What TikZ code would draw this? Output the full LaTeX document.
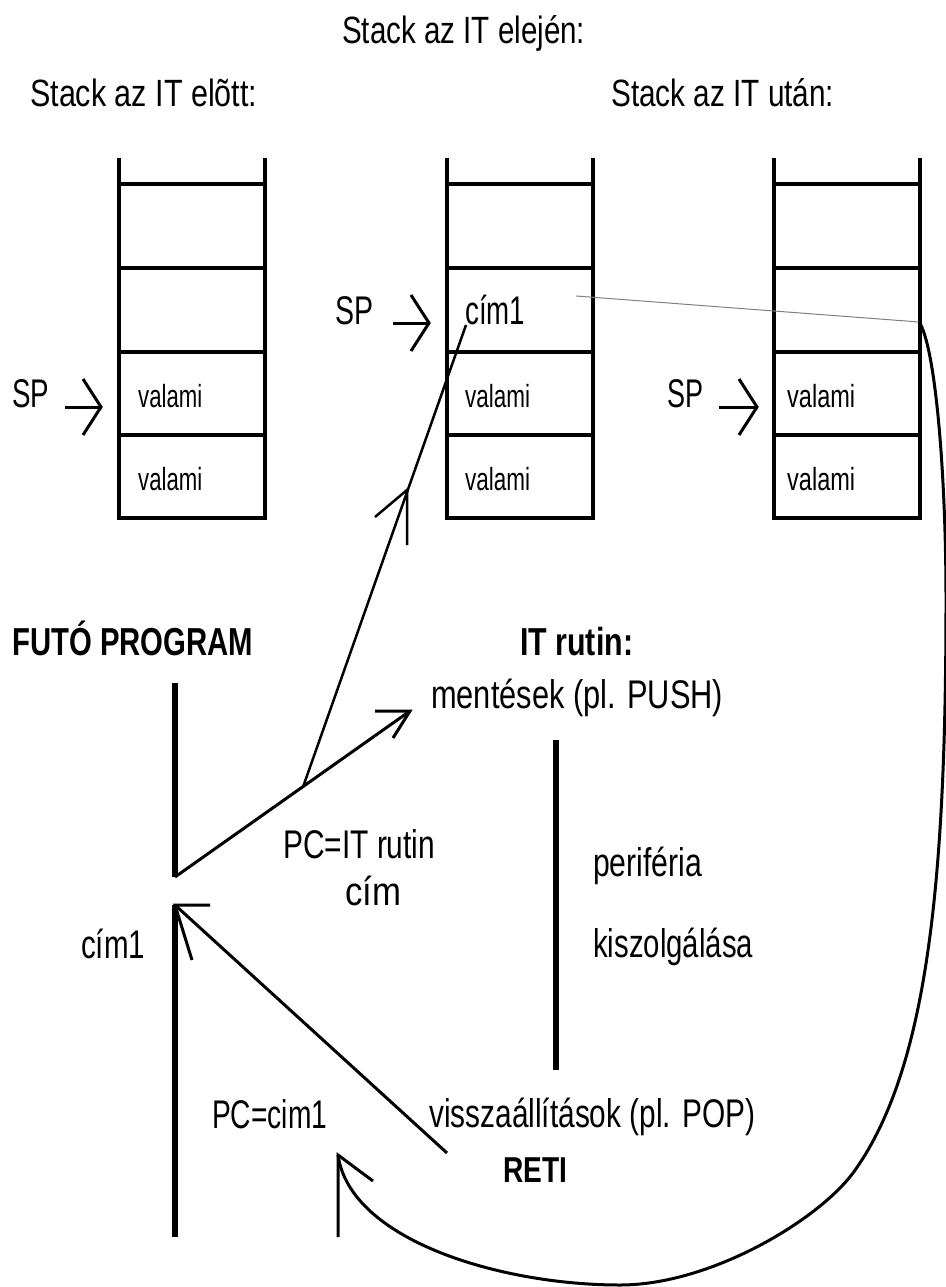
\documentclass[tikz,border=0pt]{standalone}
\usepackage{fontspec}
\setmainfont{Liberation Sans}
\usepackage{graphicx}
\usetikzlibrary{calc}
\newcommand\wlab[2]{\resizebox{#1pt}{\height}{#2}}
\begin{document}
\begin{tikzpicture}[x=1pt,y=-1pt,
  stk/.style={line width=3.5pt},
  prog/.style={line width=6pt},
  arr/.style={line width=3pt},
  thin arr/.style={line width=2.5pt},
  lbl/.style={inner sep=0pt, anchor=base west, font=\fontsize{40}{40}\selectfont},
  ttl/.style={inner sep=0pt, anchor=base west, font=\fontsize{38}{38}\selectfont},
  cellt/.style={inner sep=0pt, anchor=base west, font=\fontsize{32}{32}\selectfont},
  blbl/.style={inner sep=0pt, anchor=base west, font=\fontsize{39}{39}\selectfont\bfseries},
]
\useasboundingbox (0,0) rectangle (945,1287);

% ---------- titles ----------
\node[ttl] (tmid) at (342,44) {\wlab{243}{Stack az IT elején:}};
\node[ttl] (tleft) at (30,107) {\wlab{227}{Stack az IT elõtt:}};
\node[ttl] (tright) at (611,107) {\wlab{223}{Stack az IT után:}};

% ---------- stacks ----------
\foreach \L in {119,447,774} {
  \draw[stk] (\L,158) -- (\L,518) -- ({\L+146},518) -- ({\L+146},158);
  \foreach \yy in {184,268,352,435} \draw[stk] (\L,\yy) -- ({\L+146},\yy);
}

% cell texts
\node[cellt] (v1a) at (138,407) {\wlab{64}{valami}};
\node[cellt] (v1b) at (138,490) {\wlab{64}{valami}};
\node[cellt] (v2a) at (465,407) {\wlab{65}{valami}};
\node[cellt] (v2b) at (465,490) {\wlab{65}{valami}};
\node[cellt] (v3a) at (787,407) {\wlab{68}{valami}};
\node[cellt] (v3b) at (787,490) {\wlab{68}{valami}};
\node[lbl] (cim1s) at (465,324) {\wlab{60}{cím1}};

% SP labels and arrows
\node[lbl] (sp1) at (12,407) {\wlab{37}{SP}};
\node[lbl] (sp2) at (335,324) {\wlab{38}{SP}};
\node[lbl] (sp3) at (667,407) {\wlab{36}{SP}};
\coordinate (sp1s) at (65,407);  \coordinate (sp1t) at (101,407);
\coordinate (sp2s) at (393,323); \coordinate (sp2t) at (429,323);
\coordinate (sp3s) at (719,407); \coordinate (sp3t) at (757,407);
\foreach \n in {1,2,3} {
  \draw[arr] (sp\n s) -- (sp\n t);
  \draw[arr] ($(sp\n t)+(-18,-28)$) -- (sp\n t) -- ($(sp\n t)+(-18,28)$);
}

% ---------- program part ----------
\node[blbl] (futo) at (12,655) {\wlab{241}{FUTÓ PROGRAM}};
\node[blbl] (itr) at (520,655) {\wlab{113}{IT rutin:}};
\node[lbl] (ment) at (431,708) {\wlab{292}{mentések (pl. PUSH)}};
\node[lbl] (pcit) at (283,858) {\wlab{152}{PC=IT rutin}};
\node[lbl] (cimx) at (345,905) {\wlab{56}{cím}};
\node[lbl] (peri) at (593,876) {\wlab{109}{periféria}};
\node[lbl] (kisz) at (593,957) {\wlab{160}{kiszolgálása}};
\node[lbl] (cim1l) at (81,958) {\wlab{64}{cím1}};
\node[lbl] (pccim) at (212,1128) {\wlab{115}{PC=cim1}};
\node[lbl] (vissz) at (429,1127) {\wlab{326}{visszaállítások (pl. POP)}};
\node[blbl, font=\fontsize{36}{36}\selectfont\bfseries] (reti) at (503,1182) {\wlab{64}{RETI}};

% coordinates
\coordinate (p1top) at (175,683);
\coordinate (p1bot) at (175,877);
\coordinate (p2top) at (175,905);
\coordinate (p2bot) at (175,1237);
\coordinate (ittop) at (556,740);
\coordinate (itbot) at (556,1070);
\coordinate (callTip) at (410,711);
\coordinate (retStart) at (447,1153);
\coordinate (pushFoot) at (303,787);
\coordinate (pushEnd) at (466,325);
\coordinate (pushTip) at (407,490);
\coordinate (grayA) at (576,296);
\coordinate (grayB) at (919,322);
\coordinate (curveTip) at (338,1155);
\coordinate (cv1) at (946,600);
\coordinate (cv2) at (853,1173);
\coordinate (cv3) at (620,1285);

% program lines
\draw[prog] (p1top) -- (p1bot);
\draw[prog] (p2top) -- (p2bot);
\draw[prog] (ittop) -- (itbot);

% call arrow
\draw[arr, line join=round] (p1bot) -- (callTip);
\draw[arr] ($(callTip)+(-35,0)$) -- (callTip) -- ($(callTip)+(-17,27)$);

% return arrow
\draw[arr] (retStart) -- (p2top);
\draw[arr] ($(p2top)+(35,0)$) -- (p2top) -- ($(p2top)+(17,55)$);

% push of return address
\draw[thin arr] (pushFoot) -- (pushEnd);
\draw[thin arr] ($(pushTip)+(0,55)$) -- (pushTip) -- ($(pushTip)+(-32,27)$);

% thin gray line and curve
\draw[gray, line width=1pt] (grayA) -- (grayB);
\draw[arr] (grayB) .. controls (935,345) and (946,470) .. (cv1)
  .. controls (946,880) and (928,1070) .. (cv2)
  .. controls (817,1221) and (710,1285) .. (cv3)
  .. controls (500,1285) and (350,1240) .. (curveTip);
\draw[arr] ($(curveTip)+(0,82)$) -- (curveTip) -- ($(curveTip)+(35,26)$);

\end{tikzpicture}
\end{document}
